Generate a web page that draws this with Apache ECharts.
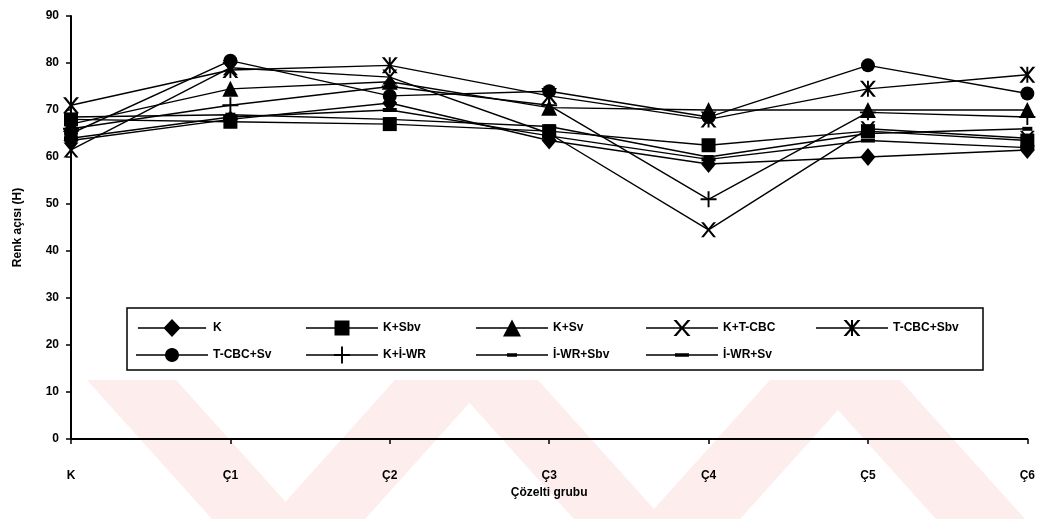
<!DOCTYPE html>
<html>
<head>
<meta charset="utf-8">
<script src="https://cdn.jsdelivr.net/npm/echarts@6/dist/echarts.min.js"></script>
<style>
html,body{margin:0;padding:0;background:#fff;}
#c{width:1038px;height:519px;}
</style>
</head>
<body>
<div id="c"></div>
<script>
var categories = ['K', 'Ç1', 'Ç2', 'Ç3', 'Ç4', 'Ç5', 'Ç6'];
var yTicks = [0, 10, 20, 30, 40, 50, 60, 70, 80, 90];
var seriesNames = ['K', 'K+Sbv', 'K+Sv', 'K+T-CBC', 'T-CBC+Sbv', 'T-CBC+Sv', 'K+İ-WR', 'İ-WR+Sbv', 'İ-WR+Sv'];
var vK        = [63.5, 68.0, 71.5, 63.5, 58.5, 60.0, 61.5];
var vKSbv     = [68.0, 67.5, 67.0, 65.5, 62.5, 65.5, 63.5];
var vKSv      = [67.0, 74.5, 76.0, 70.5, 70.0, 70.0, 70.0];
var vKTCBC    = [61.5, 79.0, 77.0, 65.0, 44.5, 66.0, 64.0];
var vTCBCSbv  = [71.0, 78.5, 79.5, 73.0, 68.0, 74.5, 77.5];
var vTCBCSv   = [65.0, 80.5, 73.0, 74.0, 68.5, 79.5, 73.5];
var vKIWR     = [66.0, 71.0, 75.0, 71.0, 51.0, 69.5, 68.5];
var vIWRSbv   = [68.5, 69.0, 68.0, 66.5, 60.0, 65.0, 66.0];
var vIWRSv    = [64.0, 68.5, 70.0, 64.5, 59.5, 63.5, 62.0];
var seriesValues = [vK, vKSbv, vKSv, vKTCBC, vTCBCSbv, vTCBCSv, vKIWR, vIWRSbv, vIWRSv];

// unit shapes (0..10 box), clockwise
var X_UNIT = [[0,0],[1.8,0],[5,4],[8.2,0],[10,0],[5.9,5],[10,10],[8.2,10],[5,6],[1.8,10],[0,10],[4.1,5]];
var VBAR_UNIT = [[4.4,0],[5.6,0],[5.6,10],[4.4,10]];
var PLUS_UNIT = [[4.4,0],[5.6,0],[5.6,4.4],[10,4.4],[10,5.6],[5.6,5.6],[5.6,10],[4.4,10],[4.4,5.6],[0,5.6],[0,4.4],[4.4,4.4]];
function poly(pts, cx, cy, s) {
  return 'M' + pts.map(function (p) {
    return (cx + (p[0] - 5) * s).toFixed(2) + ',' + (cy + (p[1] - 5) * s).toFixed(2);
  }).join(' L') + ' Z ';
}
function circlePts(n) {
  var a = [];
  for (var i = 0; i < n; i++) {
    var t = -Math.PI / 2 + i * 2 * Math.PI / n;
    a.push([5 + 5 * Math.cos(t), 5 + 5 * Math.sin(t)]);
  }
  return a;
}
var DIAMOND_UNIT = [[5,0],[10,5],[5,10],[0,5]];
var SQUARE_UNIT = [[0,0],[10,0],[10,10],[0,10]];
var TRI_UNIT = [[5,0],[10,10],[0,10]];
var CIRCLE_UNIT = circlePts(24);

var X_PATH = 'path://' + poly(X_UNIT, 5, 5, 1);
var AST_PATH = 'path://' + poly(X_UNIT, 5, 5, 1) + poly(VBAR_UNIT, 5, 5, 1);
var PLUS_PATH = 'path://' + poly(PLUS_UNIT, 5, 5, 1);
var symbols = ['diamond', 'rect', 'triangle', X_PATH, AST_PATH, 'circle', PLUS_PATH, 'rect', 'rect'];
var symbolSizes = [[15, 18], 14, 16, 15, 16, 14, 16, [10, 4], [14, 4]];

// legend icons: line + marker, in a 72-wide frame
var LINE_SEG = 'M0,-0.8 L72,-0.8 L72,0.8 L0,0.8 Z ';
function rectPath(cx, w, h) {
  return 'M' + (cx - w / 2) + ',' + (-h / 2) + ' L' + (cx + w / 2) + ',' + (-h / 2) + ' L' + (cx + w / 2) + ',' + (h / 2) + ' L' + (cx - w / 2) + ',' + (h / 2) + ' Z ';
}
function scaled(pts, sx, sy) {
  return 'M' + pts.map(function (p) {
    return (36 + (p[0] - 5) * sx).toFixed(2) + ',' + ((p[1] - 5) * sy).toFixed(2);
  }).join(' L') + ' Z ';
}
var legendIcons = [
  'path://' + LINE_SEG + scaled(DIAMOND_UNIT, 1.8, 1.9),
  'path://' + LINE_SEG + scaled(SQUARE_UNIT, 1.5, 1.5),
  'path://' + LINE_SEG + scaled(TRI_UNIT, 1.8, 1.7),
  'path://' + LINE_SEG + scaled(X_UNIT, 1.7, 1.6),
  'path://' + LINE_SEG + scaled(X_UNIT, 1.7, 1.6) + scaled(VBAR_UNIT, 1.7, 1.6),
  'path://' + LINE_SEG + scaled(CIRCLE_UNIT, 1.4, 1.4),
  'path://' + LINE_SEG + scaled(PLUS_UNIT, 1.6, 1.7),
  'path://' + LINE_SEG + rectPath(36, 10, 3.5),
  'path://' + LINE_SEG + rectPath(36, 14, 3.5)
];

var FONT = '"Liberation Sans", Arial, sans-serif';

// watermark bands (light pink)
var wmTop = 380, wmBot = 519;
var bands = [
  [[87, 176], [212, 301]],
  [[395, 490], [270, 365]],
  [[449, 538], [574, 663]],
  [[770, 865], [645, 740]],
  [[811, 900], [936, 1025]]
];
var graphics = bands.map(function (b) {
  return {
    type: 'polygon', z: -10, silent: true,
    shape: { points: [[b[0][0], wmTop], [b[0][1], wmTop], [b[1][1], wmBot], [b[1][0], wmBot]] },
    style: { fill: '#fdeded' }
  };
});
graphics.push({
  type: 'rect', z: 5, silent: true,
  shape: { x: 127, y: 308, width: 856, height: 62 },
  style: { fill: '#fff', stroke: '#000', lineWidth: 1.5 }
});

var series = seriesNames.map(function (n, i) {
  return {
    name: n, type: 'line', data: seriesValues[i],
    symbol: symbols[i], symbolSize: symbolSizes[i],
    showAllSymbol: true,
    lineStyle: { color: '#000', width: 1.4 },
    itemStyle: { color: '#000', borderWidth: 0 },
    animation: false, z: 3
  };
});

var chart = echarts.init(document.getElementById('c'));
chart.setOption({
  backgroundColor: '#fff',
  animation: false,
  graphic: graphics,
  grid: { left: 71, right: 10, top: 16, bottom: 80, containLabel: false },
  legend: {
    data: seriesNames.map(function (n, i) { return { name: n, icon: legendIcons[i] }; }),
    left: 131, top: 312, width: 860,
    orient: 'horizontal',
    itemWidth: 72, itemHeight: 18, itemGap: 5,
    symbolKeepAspect: true,
    z: 10,
    itemStyle: { color: '#000', borderWidth: 0 },
    textStyle: { fontFamily: FONT, fontWeight: 'bold', fontSize: 12, color: '#000', width: 88, lineHeight: 22 },
    inactiveColor: '#000'
  },
  xAxis: {
    type: 'category', data: categories, boundaryGap: false,
    axisLine: { lineStyle: { color: '#000', width: 2 } },
    axisTick: { show: true, alignWithLabel: true, length: 5, lineStyle: { color: '#000', width: 1.5 } },
    axisLabel: { fontFamily: FONT, fontWeight: 'bold', fontSize: 12, color: '#000', margin: 31 },
    name: 'Çözelti grubu', nameLocation: 'middle', nameGap: 48,
    nameTextStyle: { fontFamily: FONT, fontWeight: 'bold', fontSize: 12, color: '#000' },
    splitLine: { show: false }
  },
  yAxis: {
    type: 'value', min: yTicks[0], max: yTicks[yTicks.length - 1], interval: 10,
    axisLine: { show: true, lineStyle: { color: '#000', width: 2 } },
    axisTick: { show: true, length: 5, lineStyle: { color: '#000', width: 1.5 } },
    axisLabel: { fontFamily: FONT, fontWeight: 'bold', fontSize: 12, color: '#000', margin: 12 },
    splitLine: { show: false },
    name: 'Renk açısı (H)', nameLocation: 'middle', nameGap: 47, nameRotate: 90,
    nameTextStyle: { fontFamily: FONT, fontWeight: 'bold', fontSize: 12, color: '#000' }
  },
  series: series
});
</script>
</body>
</html>
